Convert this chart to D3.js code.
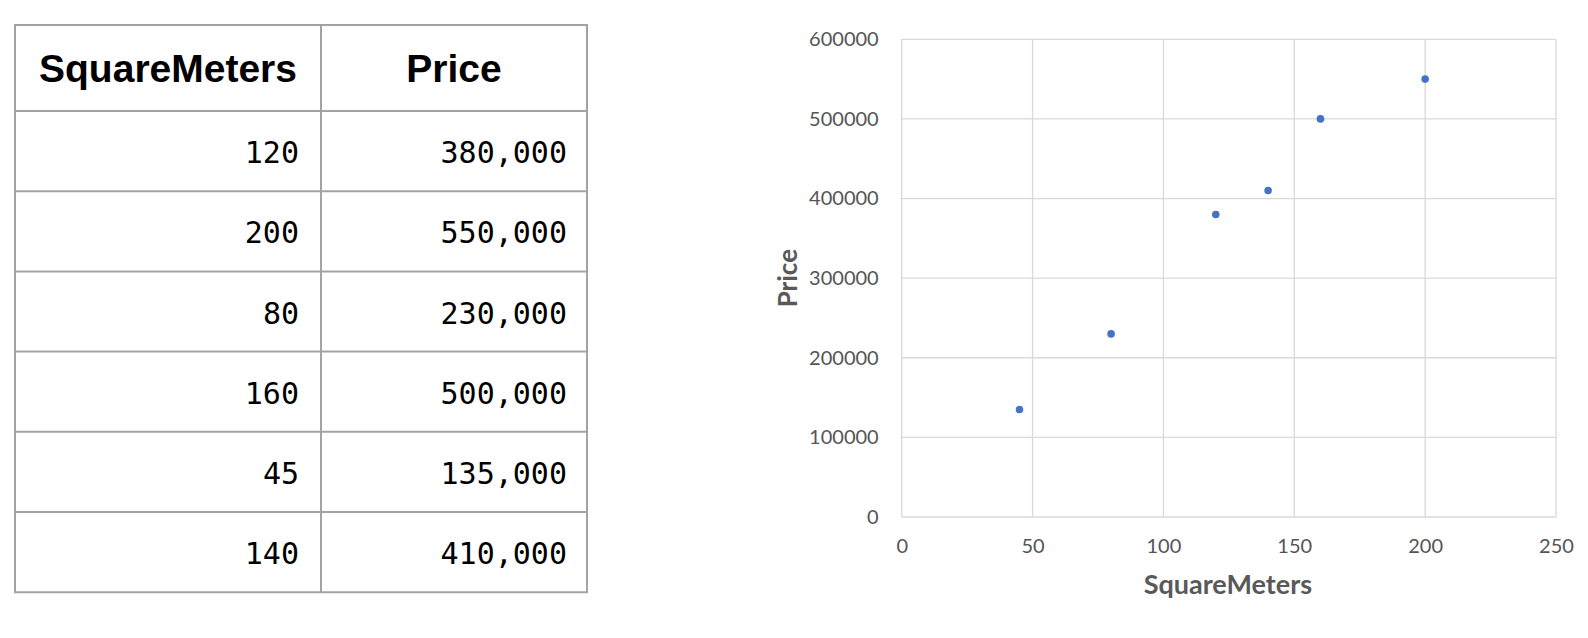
<!DOCTYPE html>
<html>
<head>
<meta charset="utf-8">
<script src="https://cdn.jsdelivr.net/npm/d3@7"></script>
<style>
  html, body { margin: 0; padding: 0; background: #ffffff; }
  svg { display: block; }
</style>
</head>
<body>
<svg id="chart" width="1588" height="638"></svg>
<script>
// ---- data ----
const columns = ["SquareMeters", "Price"];
const squareMeters = [120, 200, 80, 160, 45, 140];
const prices = [380000, 550000, 230000, 500000, 135000, 410000];
const xTicks = [0, 50, 100, 150, 200, 250];
const yTicks = [0, 100000, 200000, 300000, 400000, 500000, 600000];

const svg = d3.select("#chart");

// ---- table ----
const tbl = { left: 15, top: 25, headerH: 86, rowH: 80.2, colX: [15, 321, 587] };
const rows = squareMeters.map((s, i) => [s, prices[i]]);
const rowY = d3.scaleLinear().domain([0, rows.length]).range([tbl.top + tbl.headerH, tbl.top + tbl.headerH + rows.length * tbl.rowH]);
const tableG = svg.append("g");
const fmt = [d3.format(""), d3.format(",")];

tableG.selectAll("text.head").data(columns).join("text")
  .attr("class", "head")
  .attr("x", (d, i) => (tbl.colX[i] + tbl.colX[i + 1]) / 2)
  .attr("y", tbl.top + tbl.headerH / 2 + 14)
  .attr("text-anchor", "middle")
  .attr("font-family", "Liberation Sans, Arial, sans-serif")
  .attr("font-weight", "bold")
  .attr("font-size", 39)
  .attr("fill", "#000")
  .text(d => d);

const rowG = tableG.selectAll("g.row").data(rows).join("g").attr("class", "row");
rowG.selectAll("text").data(d => d).join("text")
  .attr("x", (d, i) => tbl.colX[i + 1] - (i === 0 ? 22 : 20))
  .attr("y", function(d) { const r = rows.indexOf(d3.select(this.parentNode).datum()); return rowY(r) + tbl.rowH / 2 + 12; })
  .attr("text-anchor", "end")
  .attr("font-family", "DejaVu Sans Mono, monospace")
  .attr("font-size", 30)
  .attr("fill", "#000")
  .text((d, i) => fmt[i](d));

const lineColor = "#a3a3a3";
// horizontal lines
const hLines = [tbl.top].concat(d3.range(rows.length + 1).map(r => rowY(r)));
tableG.selectAll("line.h").data(hLines).join("line")
  .attr("x1", tbl.colX[0] - 1).attr("x2", tbl.colX[2] + 1)
  .attr("y1", d => d).attr("y2", d => d)
  .attr("stroke", lineColor).attr("stroke-width", 2);
tableG.selectAll("line.v").data(tbl.colX).join("line")
  .attr("x1", d => d).attr("x2", d => d)
  .attr("y1", tbl.top).attr("y2", rowY(rows.length))
  .attr("stroke", lineColor).attr("stroke-width", 2);

// ---- scatter ----
const plot = { left: 901.7, right: 1556, top: 39.3, bottom: 517 };
const x = d3.scaleLinear().domain([0, 250]).range([plot.left, plot.right]);
const y = d3.scaleLinear().domain([0, 600000]).range([plot.bottom, plot.top]);
const chartG = svg.append("g");
const gridColor = "#d9d9d9";

chartG.selectAll("line.gx").data(xTicks).join("line")
  .attr("x1", d => x(d)).attr("x2", d => x(d))
  .attr("y1", plot.top).attr("y2", plot.bottom)
  .attr("stroke", gridColor).attr("stroke-width", 1.3);
chartG.selectAll("line.gy").data(yTicks).join("line")
  .attr("x1", plot.left).attr("x2", plot.right)
  .attr("y1", d => y(d)).attr("y2", d => y(d))
  .attr("stroke", gridColor).attr("stroke-width", 1.3);

const tickFont = "Lato, Open Sans, sans-serif";
const xAxis = d3.axisBottom(x).tickValues(xTicks).tickSize(0).tickPadding(22).tickFormat(d3.format("d"));
const yAxis = d3.axisLeft(y).tickValues(yTicks).tickSize(0).tickPadding(23).tickFormat(d3.format("d"));
const gx = chartG.append("g").attr("transform", `translate(0,${plot.bottom})`).call(xAxis);
const gy = chartG.append("g").attr("transform", `translate(${plot.left},0)`).call(yAxis);
[gx, gy].forEach(g => {
  g.select(".domain").remove();
  g.selectAll("text").attr("font-family", tickFont).attr("font-size", 20).attr("fill", "#555555");
});

chartG.selectAll("circle.pt").data(rows).join("circle")
  .attr("cx", d => x(d[0])).attr("cy", d => y(d[1]))
  .attr("r", 3.8).attr("fill", "#4472c4");

chartG.append("text")
  .attr("x", (plot.left + plot.right) / 2 - 1).attr("y", 594)
  .attr("text-anchor", "middle")
  .attr("font-family", tickFont).attr("font-weight", "bold").attr("font-size", 27)
  .attr("fill", "#595959").text(columns[0]);
chartG.append("text")
  .attr("transform", `translate(797,${(plot.top + plot.bottom) / 2}) rotate(-90)`)
  .attr("text-anchor", "middle")
  .attr("font-family", tickFont).attr("font-weight", "bold").attr("font-size", 26)
  .attr("fill", "#595959").text(columns[1]);
</script>
</body>
</html>
